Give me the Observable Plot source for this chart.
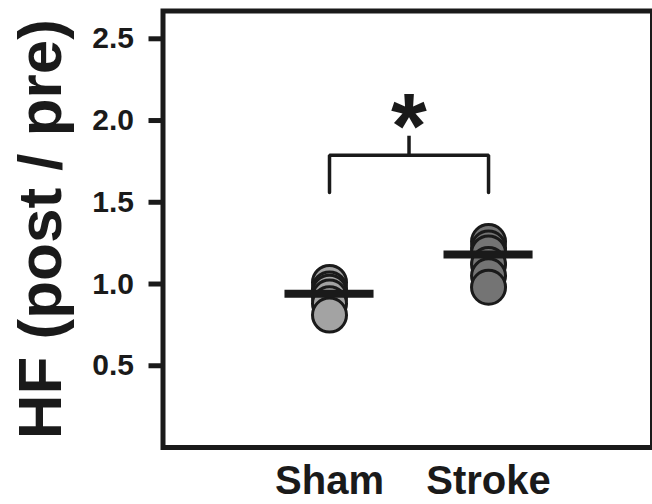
<!DOCTYPE html>
<html>
<head>
<meta charset="utf-8">
<script src="https://cdn.jsdelivr.net/npm/d3@7"></script>
<script src="https://cdn.jsdelivr.net/npm/@observablehq/plot@0.6"></script>
<style>
  html, body { margin: 0; padding: 0; background: #fff; }
  #chart svg { display: block; }
</style>
</head>
<body>
<div id="chart"></div>
<script>
// ---- data ----
const groups = ["Sham", "Stroke"];
const shamValues = [1.01, 0.97, 0.95, 0.92, 0.88, 0.81];
const strokeValues = [1.26, 1.22, 1.19, 1.12, 1.05, 0.98];
const groupMeans = [0.94, 1.18];
const groupFills = ["#a3a3a3", "#747474"];
const yTicks = [0.5, 1.0, 1.5, 2.0, 2.5];
const yLabel = "HF (post / pre)";
const bracketLow = 1.56;
const bracketHigh = 1.787;
const stemTop = 1.904;
const starY = 1.95;
const starText = "*";

// ---- tables built from arrays ----
const points = [
  ...shamValues.map(v => ({g: 0, v})),
  ...strokeValues.map(v => ({g: 1, v}))
];
const means = groupMeans.map((m, i) => ({g: i, m}));
const bracket = [
  {x: 0, y: bracketLow}, {x: 0, y: bracketHigh},
  {x: 1, y: bracketHigh}, {x: 1, y: bracketLow}
];

const font = "'Liberation Sans', Arial, Helvetica, sans-serif";
const ink = "#1a1a1a";
const halfBar = 0.28;

const chart = Plot.plot({
  width: 652,
  height: 504,
  marginTop: 10.5,
  marginBottom: 57,
  marginLeft: 162.5,
  marginRight: 0,
  style: {fontFamily: font, background: "#fff"},
  x: {domain: [-1.047, 2.031]},
  y: {domain: [0, 2.67]},
  marks: [
    Plot.axisY({
      ticks: yTicks, tickFormat: d3.format(".1f"), tickSize: 14, tickPadding: 15,
      strokeWidth: 5, stroke: ink, fill: ink, fontSize: 30, fontWeight: "bold", label: null
    }),
    Plot.axisX({
      ticks: [0, 1], tickFormat: i => groups[i], tickSize: 0, tickPadding: 18,
      fill: ink, fontSize: 40, fontWeight: "bold", label: null
    }),
    Plot.text([yLabel], {
      frameAnchor: "left", textAnchor: "middle", rotate: -90, dx: -102, lineAnchor: "bottom",
      fontSize: 62, fontWeight: "bold", fill: ink
    }),
    Plot.dot(points, {
      x: "g", y: "v", r: 17, fill: d => groupFills[d.g],
      stroke: ink, strokeWidth: 3
    }),
    Plot.ruleY(means, {
      y: "m", x1: d => d.g - halfBar, x2: d => d.g + halfBar,
      stroke: ink, strokeWidth: 8
    }),
    Plot.line(bracket, {x: "x", y: "y", stroke: ink, strokeWidth: 3.5, strokeLinejoin: "miter"}),
    Plot.ruleX([0.5], {y1: bracketHigh, y2: stemTop, stroke: ink, strokeWidth: 3.5}),
    Plot.text([starText], {x: 0.5, y: starY, fontSize: 92, fontWeight: "bold", fill: ink, lineAnchor: "middle"}),
    Plot.frame({stroke: ink, strokeWidth: 5})
  ]
});
document.getElementById("chart").appendChild(chart);
</script>
</body>
</html>
